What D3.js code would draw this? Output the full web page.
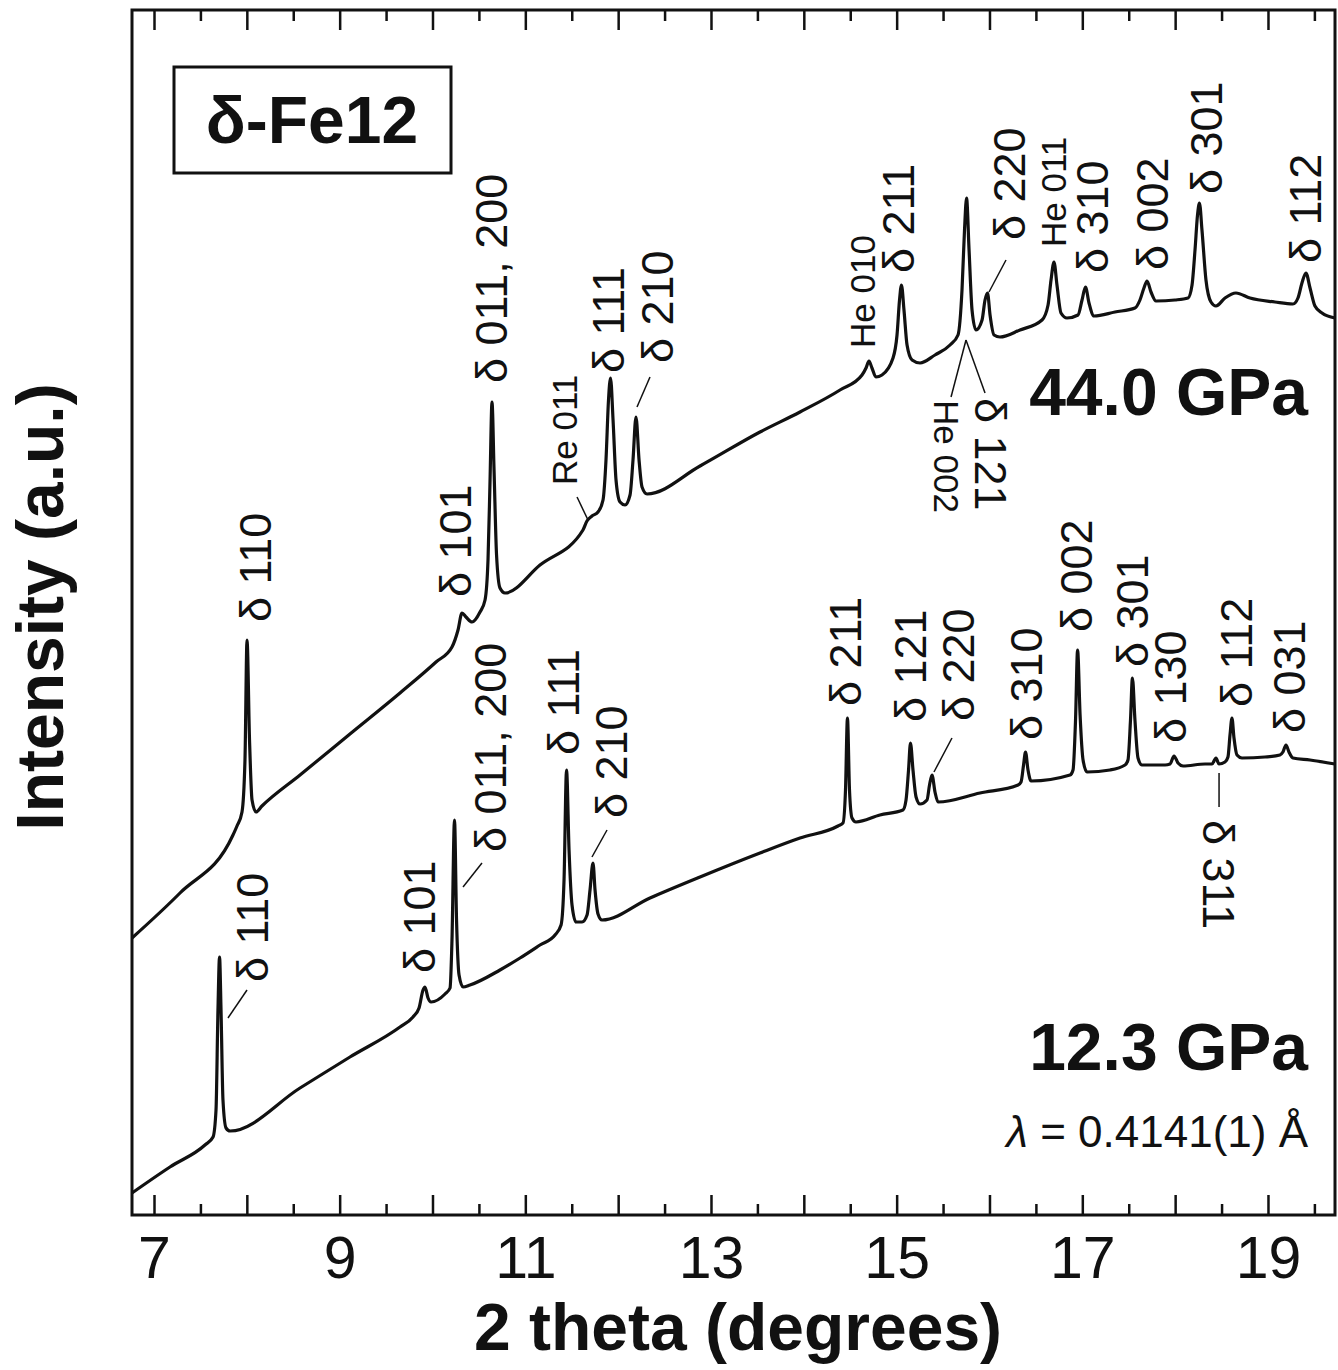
<!DOCTYPE html>
<html>
<head>
<meta charset="utf-8">
<script src="https://cdnjs.cloudflare.com/ajax/libs/d3/7.8.5/d3.min.js"></script>
<style>
body { margin: 0; background: #fff; }
text { font-family: "Liberation Sans", Arial, sans-serif; fill: #111; }
</style>
</head>
<body>
<div id="chart"></div>
<script>
var width = 1338, height = 1370;
var plot = {left: 132, right: 1335, top: 10, bottom: 1215};

// 2 theta (deg), intensity (a.u.)
var pattern12 = [
    [6.763, 22], [7.172, 48], [7.549, 70], [7.636, 78], [7.668, 105], [7.689, 205], [7.706, 258],
    [7.722, 205], [7.743, 115], [7.776, 87], [7.819, 84], [8.573, 127], [9.111, 158], [9.650, 188],
    [9.790, 198], [9.855, 207], [9.898, 225], [9.919, 228], [9.952, 217], [9.984, 213], [10.135, 221],
    [10.189, 227], [10.210, 275], [10.237, 395], [10.259, 295], [10.286, 240], [10.329, 228],
    [10.404, 230], [10.727, 245], [10.943, 257], [11.158, 270], [11.320, 280], [11.385, 290],
    [11.417, 335], [11.444, 445], [11.471, 365], [11.503, 310], [11.546, 293], [11.611, 293],
    [11.665, 300], [11.697, 325], [11.729, 352], [11.751, 325], [11.783, 301], [11.826, 295],
    [12.343, 317], [12.882, 338], [13.528, 362], [13.959, 377], [14.368, 389], [14.422, 392],
    [14.449, 425], [14.470, 497], [14.492, 425], [14.519, 397], [14.562, 393], [14.820, 400],
    [15.068, 405], [15.101, 415], [15.128, 445], [15.149, 472], [15.176, 445], [15.209, 418],
    [15.252, 411], [15.327, 415], [15.354, 430], [15.381, 440], [15.413, 423], [15.446, 413],
    [15.898, 422], [16.308, 430], [16.340, 433], [16.367, 450], [16.388, 463], [16.415, 445],
    [16.448, 434], [16.868, 440], [16.900, 445], [16.927, 495], [16.949, 565], [16.976, 500],
    [17.008, 455], [17.051, 443], [17.298, 445], [17.460, 450], [17.492, 455], [17.519, 495],
    [17.540, 537], [17.567, 495], [17.600, 457], [17.643, 450], [17.891, 450], [17.945, 451],
    [17.988, 459], [18.031, 452], [18.085, 449], [18.322, 451], [18.397, 451], [18.440, 457],
    [18.472, 451], [18.537, 453], [18.569, 458], [18.591, 480], [18.612, 497], [18.634, 477],
    [18.666, 460], [18.720, 457], [18.968, 458], [19.129, 460], [19.161, 463], [19.194, 470],
    [19.226, 463], [19.269, 457], [19.453, 455], [19.722, 451]
];

var pattern44 = [
    [6.763, 277], [7.280, 322], [7.851, 380], [7.894, 389], [7.948, 403], [7.980, 455], [8.002, 575],
    [8.029, 475], [8.056, 415], [8.099, 403], [8.163, 409], [8.573, 440], [9.111, 481], [9.650, 522],
    [10.038, 553], [10.210, 568], [10.275, 585], [10.318, 602], [10.361, 598], [10.426, 593],
    [10.512, 603], [10.566, 615], [10.598, 655], [10.620, 735], [10.641, 813], [10.663, 745],
    [10.690, 660], [10.727, 627], [10.781, 622], [11.158, 650], [11.621, 685], [11.664, 694],
    [11.718, 699], [11.783, 703], [11.837, 715], [11.869, 755], [11.896, 815], [11.918, 837],
    [11.945, 795], [11.977, 735], [12.020, 713], [12.074, 710], [12.128, 720], [12.160, 755],
    [12.192, 798], [12.225, 755], [12.257, 728], [12.311, 721], [12.882, 749], [13.528, 783],
    [13.959, 803], [14.390, 825], [14.627, 840], [14.670, 847], [14.702, 854], [14.734, 847],
    [14.777, 838], [14.842, 840], [14.961, 857], [15.004, 880], [15.031, 915], [15.052, 930],
    [15.079, 905], [15.112, 870], [15.166, 855], [15.252, 852], [15.413, 860], [15.575, 870],
    [15.661, 880], [15.704, 925], [15.731, 985], [15.753, 1017], [15.780, 965], [15.812, 905],
    [15.855, 885], [15.920, 895], [15.952, 915], [15.979, 922], [16.006, 900], [16.049, 880],
    [16.113, 878], [16.329, 885], [16.566, 895], [16.631, 910], [16.663, 935], [16.695, 953],
    [16.727, 930], [16.770, 902], [16.835, 897], [16.954, 900], [16.997, 915], [17.034, 928],
    [17.072, 912], [17.126, 899], [17.352, 903], [17.567, 907], [17.621, 915], [17.664, 927],
    [17.697, 934], [17.740, 923], [17.794, 914], [17.998, 915], [18.139, 917], [18.182, 930],
    [18.214, 965], [18.241, 1000], [18.262, 1012], [18.289, 985], [18.332, 935], [18.386, 913],
    [18.440, 909], [18.537, 917], [18.655, 922], [18.806, 917], [19.075, 913], [19.269, 911],
    [19.323, 917], [19.366, 932], [19.409, 942], [19.453, 927], [19.506, 909], [19.582, 902],
    [19.722, 897]
];

// reflection labels: text, 2 theta, intensity where the label starts
var labels44 = [
    ["δ 110", 8.088, 593], ["δ 101", 10.243, 618], ["δ 011, 200", 10.641, 832],
    ["δ 111", 11.891, 842], ["δ 210", 12.429, 852], ["δ 211", 15.025, 942],
    ["δ 220", 16.221, 975], ["δ 310", 17.105, 942], ["δ 002", 17.751, 945],
    ["δ 301", 18.343, 1021], ["δ 112", 19.399, 952]
];
var smallLabels44 = [["Re 011", 11.417, 730], ["He 010", 14.627, 867], ["He 011", 16.695, 968]];
var downLabels44 = [["δ 121", 16.006, 817, false], ["He 002", 15.532, 815, true]];

var labels12 = [
    ["δ 110", 8.056, 233], ["δ 101", 9.855, 242], ["δ 011, 200", 10.620, 363],
    ["δ 111", 11.406, 460], ["δ 210", 11.923, 397], ["δ 211", 14.454, 509],
    ["δ 121", 15.144, 493], ["δ 220", 15.661, 494], ["δ 310", 16.404, 475],
    ["δ 002", 16.932, 583], ["δ 301", 17.546, 548], ["δ 130", 17.955, 472],
    ["δ 112", 18.666, 508], ["δ 031", 19.237, 482]
];
var downLabels12 = [["δ 311", 18.462, 395, false]];

// leader lines: [t1, I1, t2, I2]
var leaders = [
    [11.557, 718, 11.675, 695], [12.343, 838, 12.203, 808], [16.178, 955, 15.995, 923],
    [15.747, 875, 15.952, 822], [15.747, 875, 15.586, 818],
    [8.002, 225, 7.797, 197], [10.533, 352, 10.329, 328], [11.880, 385, 11.718, 358],
    [15.596, 477, 15.402, 443], [18.473, 442, 18.473, 408]
];

var majorTicks = d3.range(7, 20);
var minorTicks = d3.range(7.5, 20, 1);

var x = d3.scaleLinear().domain([6.763, 19.722]).range([plot.left, plot.right]);
var y = d3.scaleLinear().domain([0, 1205]).range([plot.bottom, plot.top]);

var svg = d3.select('#chart').append('svg')
    .attr('width', width)
    .attr('height', height);

var line = d3.line()
    .x(function(d) { return x(d[0]); })
    .y(function(d) { return y(d[1]); })
    .curve(d3.curveMonotoneX);

svg.selectAll('path.pattern')
    .data([pattern12, pattern44])
    .enter().append('path')
    .attr('class', 'pattern')
    .attr('d', line)
    .attr('fill', 'none')
    .attr('stroke', '#111')
    .attr('stroke-width', 3.2)
    .attr('stroke-linejoin', 'round');

// axes, ticks pointing inward
function drawAxis(axis, ty) {
    var g = svg.append('g').attr('transform', 'translate(0,' + ty + ')').call(axis);
    g.select('.domain').remove();
    g.selectAll('line').attr('stroke', '#111').attr('stroke-width', 2.5);
    return g;
}

var bottomAxis = drawAxis(d3.axisBottom(x).tickValues(majorTicks).tickSize(-20).tickPadding(21)
    .tickFormat(function(d) { return d % 2 ? d : ''; }), plot.bottom);
bottomAxis.selectAll('text').attr('font-size', 59).attr('fill', '#111')
    .style('font-family', '"Liberation Sans", Arial, sans-serif');
drawAxis(d3.axisBottom(x).tickValues(minorTicks).tickSize(-11).tickFormat(''), plot.bottom);
drawAxis(d3.axisTop(x).tickValues(majorTicks).tickSize(-20).tickFormat(''), plot.top);
drawAxis(d3.axisTop(x).tickValues(minorTicks).tickSize(-11).tickFormat(''), plot.top);

svg.append('rect')
    .attr('x', plot.left).attr('y', plot.top)
    .attr('width', plot.right - plot.left).attr('height', plot.bottom - plot.top)
    .attr('fill', 'none').attr('stroke', '#111').attr('stroke-width', 3);

// peak labels
function upLabels(list, size) {
    svg.selectAll(null)
        .data(list)
        .enter().append('text')
        .attr('transform', function(d) { return 'translate(' + x(d[1]) + ',' + y(d[2]) + ') rotate(-90)'; })
        .attr('dominant-baseline', 'central')
        .attr('font-size', size)
        .text(function(d) { return d[0]; });
}
function downLabels(list) {
    svg.selectAll(null)
        .data(list)
        .enter().append('text')
        .attr('transform', function(d) { return 'translate(' + x(d[1]) + ',' + y(d[2]) + ') rotate(90)'; })
        .attr('dominant-baseline', 'central')
        .attr('font-size', function(d) { return d[3] ? 35 : 45; })
        .text(function(d) { return d[0]; });
}
upLabels(labels44, 45);
upLabels(labels12, 45);
upLabels(smallLabels44, 35);
downLabels(downLabels44);
downLabels(downLabels12);

svg.selectAll('line.leader')
    .data(leaders)
    .enter().append('line')
    .attr('class', 'leader')
    .attr('x1', function(d) { return x(d[0]); })
    .attr('y1', function(d) { return y(d[1]); })
    .attr('x2', function(d) { return x(d[2]); })
    .attr('y2', function(d) { return y(d[3]); })
    .attr('stroke', '#111')
    .attr('stroke-width', 1.5);

// pressure labels and wavelength
svg.append('text').attr('x', 1308).attr('y', 415).attr('text-anchor', 'end')
    .attr('font-size', 66).attr('font-weight', 'bold').text('44.0 GPa');
svg.append('text').attr('x', 1308).attr('y', 1070).attr('text-anchor', 'end')
    .attr('font-size', 66).attr('font-weight', 'bold').text('12.3 GPa');
var lam = svg.append('text').attr('x', 1308).attr('y', 1147).attr('text-anchor', 'end')
    .attr('font-size', 44);
lam.append('tspan').attr('font-style', 'italic').text('λ');
lam.append('tspan').text(' = 0.4141(1) Å');

// sample box
svg.append('rect')
    .attr('x', 174).attr('y', 67).attr('width', 277).attr('height', 106)
    .attr('fill', 'none').attr('stroke', '#111').attr('stroke-width', 3);
svg.append('text').attr('x', 312).attr('y', 143).attr('text-anchor', 'middle')
    .attr('font-size', 66).attr('font-weight', 'bold').text('δ-Fe12');

// axis titles
svg.append('text').attr('x', 738).attr('y', 1350).attr('text-anchor', 'middle')
    .attr('font-size', 66).attr('font-weight', 'bold').text('2 theta (degrees)');
svg.append('text').attr('transform', 'translate(63,607) rotate(-90)').attr('text-anchor', 'middle')
    .attr('font-size', 66).attr('font-weight', 'bold').text('Intensity (a.u.)');
</script>
</body>
</html>
